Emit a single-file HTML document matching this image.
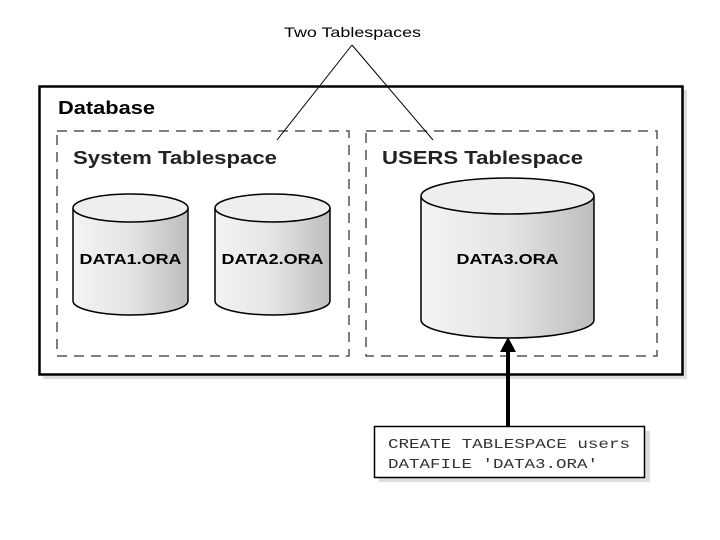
<!DOCTYPE html>
<html><head><style>body{margin:0;background:#fff}svg{display:block}</style></head><body>
<svg width="720" height="540" xmlns="http://www.w3.org/2000/svg" font-family="Liberation Sans, sans-serif">
<defs>
<linearGradient id="g" x1="0" x2="1" y1="0" y2="0">
<stop offset="0" stop-color="#f4f4f4"/><stop offset="0.5" stop-color="#e4e4e4"/><stop offset="1" stop-color="#bdbdbd"/>
</linearGradient>
</defs>
<rect x="43" y="90" width="644" height="289" fill="#ddd"/>
<rect x="39.5" y="86.5" width="643" height="288" fill="#fff" stroke="#000" stroke-width="2.5"/>
<text x="58" y="114" font-size="18" font-weight="bold" textLength="97" lengthAdjust="spacingAndGlyphs">Database</text>
<rect x="57" y="131" width="292" height="225" fill="none" stroke="#555" stroke-width="1.5" stroke-dasharray="10,7"/>
<rect x="366" y="131" width="291" height="225" fill="none" stroke="#555" stroke-width="1.5" stroke-dasharray="10,7"/>
<text x="73" y="164" font-size="18" font-weight="bold" fill="#222" textLength="204" lengthAdjust="spacingAndGlyphs">System Tablespace</text>
<text x="382" y="164" font-size="18" font-weight="bold" fill="#222" textLength="201" lengthAdjust="spacingAndGlyphs">USERS Tablespace</text>
<text x="284" y="37" font-size="14" textLength="137" lengthAdjust="spacingAndGlyphs">Two Tablespaces</text>
<path d="M352 45 L277 140 M352 45 L433 140" stroke="#000" fill="none"/>
<g stroke="#000" stroke-width="1.5">
<path d="M73 208 V301 A57.5 14 0 0 0 188 301 V208" fill="url(#g)"/>
<ellipse cx="130.5" cy="208" rx="57.5" ry="14" fill="#eee"/>
<path d="M215 208 V301 A57.5 14 0 0 0 330 301 V208" fill="url(#g)"/>
<ellipse cx="272.5" cy="208" rx="57.5" ry="14" fill="#eee"/>
<path d="M421 196 V320 A86.5 18 0 0 0 594 320 V196" fill="url(#g)"/>
<ellipse cx="507.5" cy="196" rx="86.5" ry="18" fill="#eee"/>
</g>
<g font-size="15" font-weight="bold" text-anchor="middle">
<text x="130.5" y="264" textLength="102" lengthAdjust="spacingAndGlyphs">DATA1.ORA</text>
<text x="272.5" y="264" textLength="102" lengthAdjust="spacingAndGlyphs">DATA2.ORA</text>
<text x="507.5" y="264" textLength="102" lengthAdjust="spacingAndGlyphs">DATA3.ORA</text>
</g>
<line x1="508" y1="427" x2="508" y2="350" stroke="#000" stroke-width="4"/>
<polygon points="508,337 500,352 516,352" fill="#000"/>
<rect x="379" y="431" width="271" height="51" fill="#ddd"/>
<rect x="374.5" y="426.5" width="270" height="51" fill="#fff" stroke="#000" stroke-width="1.5"/>
<g font-family="Liberation Mono, monospace" font-size="14" fill="#333">
<text x="388" y="448" textLength="242" lengthAdjust="spacingAndGlyphs">CREATE TABLESPACE users</text>
<text x="388" y="468" textLength="210" lengthAdjust="spacingAndGlyphs">DATAFILE 'DATA3.ORA'</text>
</g>
</svg>
</body></html>
